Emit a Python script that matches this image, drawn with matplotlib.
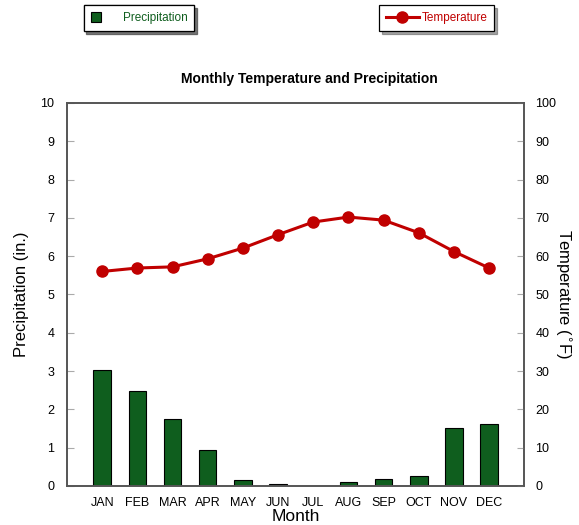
import matplotlib
matplotlib.use('Agg')
import matplotlib.pyplot as plt
from matplotlib.lines import Line2D
from matplotlib.patches import Patch
import numpy as np

plt.rcParams['font.family'] = ['Liberation Sans', 'DejaVu Sans']

months = ['JAN', 'FEB', 'MAR', 'APR', 'MAY', 'JUN', 'JUL', 'AUG', 'SEP', 'OCT', 'NOV', 'DEC']
precip = [3.04, 2.48, 1.76, 0.95, 0.15, 0.04, 0.0, 0.11, 0.17, 0.27, 1.52, 1.63]
temp = [56.0, 56.9, 57.2, 59.3, 62.1, 65.6, 68.9, 70.2, 69.4, 66.1, 61.2, 56.9]

green = '#0f5e1e'
red = '#c00000'
spine_col = '#555555'

fig = plt.figure(figsize=(5.79, 5.25), dpi=100)
ax1 = fig.add_axes([0.1157, 0.0743, 0.7898, 0.7297])
ax2 = ax1.twinx()

x = np.arange(len(months))
ax1.bar(x, precip, width=0.5, color=green, edgecolor='black', linewidth=0.8, zorder=2)
ax2.plot(x, temp, '-o', color=red, lw=2.2, markersize=8, zorder=3)

ax1.set_xlim(-1, 12)
ax1.set_ylim(0, 10)
ax2.set_ylim(0, 100)
ax1.set_yticks(range(0, 11))
ax2.set_yticks(range(0, 101, 10))
ax1.set_xticks(x)
ax1.set_xticklabels(months)

ax1.tick_params(axis='x', length=0, labelsize=9, pad=8)
ax1.tick_params(axis='y', direction='in', length=5, color='#aaaaaa', labelsize=9, pad=9)
ax2.tick_params(axis='y', direction='in', length=5, color='#aaaaaa', labelsize=9, pad=8)

for ax in (ax1, ax2):
    for s in ax.spines.values():
        s.set_color(spine_col)
        s.set_linewidth(1.2)

ax1.set_xlabel('Month', fontsize=12.5, labelpad=0)
ax1.set_ylabel('Precipitation (in.)', fontsize=12, labelpad=8)
ax2.set_ylabel('Temperature ($^{\\circ}$F)', fontsize=12, rotation=-90, labelpad=12)
ax1.set_title('Monthly Temperature and Precipitation', fontsize=10, fontweight='bold', pad=14, x=0.53)

# legends in shadowed boxes above the plot
leg1 = fig.legend(handles=[Patch(facecolor=green, edgecolor='black', linewidth=0.8)],
                  labels=['Precipitation'], loc='center', bbox_to_anchor=(0.24, 0.966),
                  fancybox=False, shadow=True, edgecolor='black', fontsize=8.5,
                  handlelength=0.9, handleheight=0.9, labelcolor=green, borderpad=0.6,
                  borderaxespad=0, handletextpad=1.8, frameon=True)
leg1.get_frame().set_linewidth(0.9)
leg2 = fig.legend(handles=[Line2D([], [], color=red, lw=2.2, marker='o', markersize=8)],
                  labels=['Temperature'], loc='center', bbox_to_anchor=(0.754, 0.966),
                  fancybox=False, shadow=True, edgecolor='black', fontsize=8.5,
                  handlelength=2.8, labelcolor=red, borderpad=0.6, borderaxespad=0,
                  handletextpad=0.2)
leg2.get_frame().set_linewidth(0.9)
fig.add_artist(leg1)

fig.savefig('out.png', dpi=100)
